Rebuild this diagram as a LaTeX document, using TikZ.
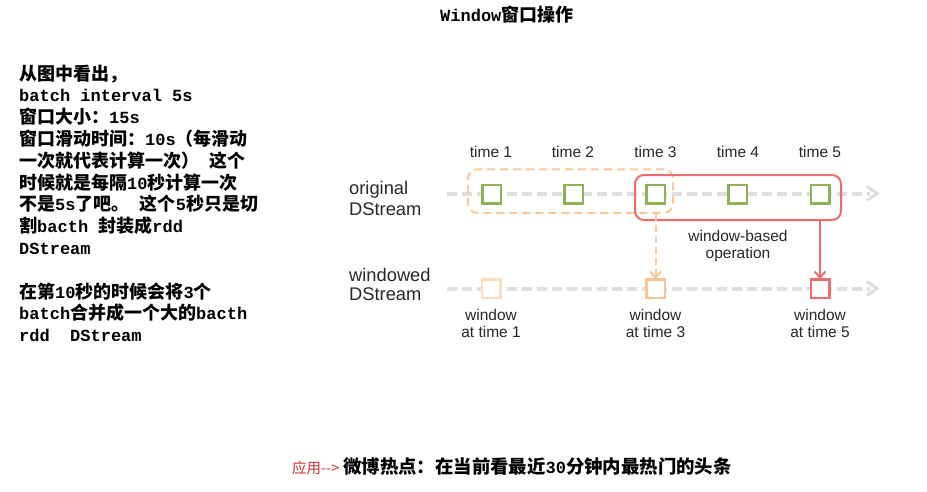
\documentclass[tikz,border=0pt]{standalone}
\usepackage{fontspec}
\setmainfont{Liberation Sans}
\newfontfamily\mono{Liberation Mono}
\newfontfamily\cjk{Noto Sans CJK SC}
\usetikzlibrary{arrows.meta}
\newcommand\zh[1]{{\cjk\bfseries\fontsize{18}{20}\selectfont #1}}
\newcommand\zhb[1]{{\cjk\bfseries\fontsize{18.4}{20}\selectfont #1}}
\definecolor{sqgreen}{RGB}{141,178,86}
\definecolor{obox}{RGB}{250,200,155}
\definecolor{worange}{RGB}{250,195,145}
\definecolor{wpale}{RGB}{253,222,195}
\definecolor{rbox}{RGB}{238,108,108}
\definecolor{axisgray}{RGB}{222,222,222}
\definecolor{txt}{RGB}{40,40,40}
\definecolor{appred}{RGB}{210,50,50}
\tikzset{
  lefttext/.style={anchor=base west, inner sep=0, font=\mono\bfseries\fontsize{17}{20}\selectfont},
  lbl/.style={font=\fontsize{15.5}{17}\selectfont, text=txt, inner sep=0, anchor=base},
  biglbl/.style={font=\fontsize{18.3}{20}\selectfont, text=txt, inner sep=0, anchor=base west},
  sq/.style={draw=#1, line width=2.5, fill=white, minimum size=18.5, inner sep=0},
  axis/.style={draw=axisgray, line width=4, dash pattern=on 10 off 5},
  chev/.style={draw=axisgray, line width=3},
  oboxst/.style={draw=obox, line width=2, dash pattern=on 8 off 5, rounded corners=9, inner sep=0},
  rboxst/.style={draw=rbox, line width=2, rounded corners=9, inner sep=0},
  oarrow/.style={draw=obox, line width=2, dash pattern=on 7 off 4, -{Straight Barb[length=6pt,width=11pt]}},
  rarrow/.style={draw=rbox, line width=2, -{Straight Barb[length=6pt,width=11pt]}},
}
\begin{document}
\begin{tikzpicture}[x=1pt,y=-1pt]
\fill[white] (0,0) rectangle (927,491);
\useasboundingbox (0,0) rectangle (927,491);

% title
\node[lefttext] (title) at (440,21) {Window\zh{窗口操作}};

% left text
\node[lefttext] (l0) at (19,80) {\zh{从图中看出，}};
\node[lefttext] (l1) at (19,101.8) {batch interval 5s};
\node[lefttext] (l2) at (19,123.6) {\zh{窗口大小：}15s};
\node[lefttext] (l3) at (19,145.4) {\zh{窗口滑动时间：}10s\zh{（每滑动}};
\node[lefttext] (l4) at (19,167.2) {\zh{一次就代表计算一次）} \zh{这个}};
\node[lefttext] (l5) at (19,189.0) {\zh{时候就是每隔}10\zh{秒计算一次}};
\node[lefttext] (l6) at (19,210.8) {\zh{不是}5s\zh{了吧。} \zh{这个}5\zh{秒只是切}};
\node[lefttext] (l7) at (19,232.6) {\zh{割}bacth \zh{封装成}rdd};
\node[lefttext] (l8) at (19,254.4) {DStream};
\node[lefttext] (l10) at (19,298.0) {\zh{在第}10\zh{秒的时候会将}3\zh{个}};
\node[lefttext] (l11) at (19,319.8) {batch\zh{合并成一个大的}bacth};
\node[lefttext] (l12) at (19,341.6) {rdd~~DStream};

% bottom line
\node[lefttext] (app) at (292,473) {{\color{appred}\cjk\mdseries\fontsize{14.5}{16}\selectfont 应用-\kern0pt-\kern0pt>}\kern4pt\zhb{微博热点：在当前看最近}30\zhb{分钟内最热门的头条}};

% axes
\coordinate (a0) at (447,193.5);
\coordinate (a1) at (870,193.5);
\coordinate (b0) at (447,288.5);
\coordinate (b1) at (870,288.5);
\draw[axis] (a0) -- (a1);
\draw[axis] (b0) -- (b1);
\draw[chev] (867,186.5) -- (877,193.5) -- (867,200.5);
\draw[chev] (867,281.5) -- (877,288.5) -- (867,295.5);

% labels
\node[lbl] (t1) at (491,157) {time 1};
\node[lbl] (t2) at (573,157) {time 2};
\node[lbl] (t3) at (655.5,157) {time 3};
\node[lbl] (t4) at (738,157) {time 4};
\node[lbl] (t5) at (820,157) {time 5};
\node[biglbl] (o1) at (349,194) {original};
\node[biglbl] (o2) at (349,215) {DStream};
\node[biglbl] (d1) at (349,281) {windowed};
\node[biglbl] (d2) at (349,300) {DStream};

% boxes
\node[oboxst, minimum width=205, minimum height=43.5] (ob) at (570.5,191) {};
\node[rboxst, minimum width=206, minimum height=45] (rb) at (738,197.5) {};

% squares
\node[sq=sqgreen] (g1) at (491.5,194) {};
\node[sq=sqgreen] (g2) at (573.5,194) {};
\node[sq=sqgreen] (g3) at (655.5,194) {};
\node[sq=sqgreen] (g4) at (737.5,194) {};
\node[sq=sqgreen] (g5) at (820,194) {};
\node[sq=wpale] (w1) at (491,288.5) {};
\node[sq=worange] (w3) at (655.5,288.5) {};
\node[sq=rbox] (w5) at (820,288.5) {};

% arrows
\draw[oarrow] (ob.south -| w3) -- ([yshift=-1]w3.north);
\draw[rarrow] (rb.south -| w5) -- ([yshift=-1]w5.north);

\node[lbl] (op1) at (738,241) {window-based};
\node[lbl] (op2) at (738,258) {operation};
\node[lbl] (wa1) at (491,320) {window};
\node[lbl] (wb1) at (491,337) {at time 1};
\node[lbl] (wa3) at (655.5,320) {window};
\node[lbl] (wb3) at (655.5,337) {at time 3};
\node[lbl] (wa5) at (820,320) {window};
\node[lbl] (wb5) at (820,337) {at time 5};
\end{tikzpicture}
\end{document}
